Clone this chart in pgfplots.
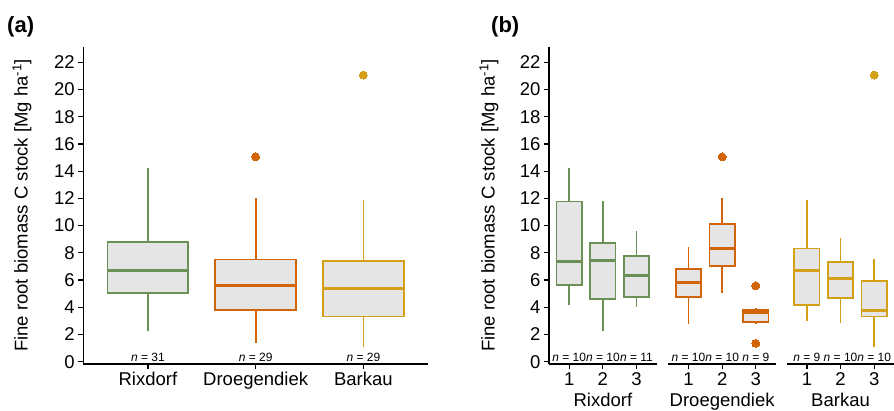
\documentclass[border=0pt]{standalone}
\usepackage{pgfplots}
\pgfplotsset{compat=1.18}
\usepgfplotslibrary{statistics}
\usepackage{fontspec}
\setmainfont{Liberation Sans}
\definecolor{cR}{RGB}{107,145,86}
\definecolor{cD}{RGB}{210,100,10}
\definecolor{cB}{RGB}{212,160,23}
\definecolor{boxfill}{RGB}{229,229,229}
\pgfplotsset{
  base/.style={
    scale only axis, anchor=south west,
    height=317pt,
    ymin=-0.17, ymax=23.12, xmin=0.4, xmax=3.6,
    ytick={0,2,...,22},
    axis x line*=bottom, axis y line*=left,
    axis line style={-, line width=1.6pt, black},
    tick style={line width=1.2pt, black},
    major tick length=5pt, tick align=outside,
    ticklabel style={font=\fontsize{18.5}{20}\selectfont},
    label style={font=\fontsize{18.5}{20}\selectfont},
    /pgf/number format/assume math mode=true,
    clip=false,
    boxplot/draw direction=y,
    boxplot/box extend=0.75,
    boxplot/whisker extend=0,
    boxplot/every median/.style={line width=3pt},
  },
  bx/.style={draw=#1, fill=boxfill, line width=1.7pt, solid,
    mark=*, mark size=4pt, mark options={fill=#1, draw=#1, line width=0pt}},
}
\tikzset{
  nlab/.style={anchor=base, inner sep=0pt, font=\fontsize{12}{14}\selectfont},
  grp/.style={anchor=base, inner sep=0pt, font=\fontsize{18.5}{20}\selectfont},
}
\begin{document}
\begin{tikzpicture}
\useasboundingbox (0,0) rectangle (894pt,410pt);
\node[anchor=base west, inner sep=0pt, font=\bfseries\fontsize{22}{24}\selectfont] at (7pt,377pt) {(a)};
\node[anchor=base west, inner sep=0pt, font=\bfseries\fontsize{22}{24}\selectfont] at (491pt,377pt) {(b)};
% ---------------- panel (a)
\begin{axis}[base, at={(83.3pt,46pt)}, width=344.7pt,
  xtick={1,2,3}, xticklabels={Rixdorf,Droegendiek,Barkau},
  ylabel={Fine root biomass C stock [Mg ha\textsuperscript{-1}]},
  ylabel style={at={(axis description cs:-0.178,0.5)}, anchor=center}]
\addplot[bx=cR, boxplot prepared={draw position=1, median=6.72, upper quartile=8.80, lower quartile=5.05, upper whisker=14.22, lower whisker=2.28}] coordinates {};
\addplot[bx=cD, boxplot prepared={draw position=2, median=5.62, upper quartile=7.50, lower quartile=3.82, upper whisker=12.06, lower whisker=1.35}] table[row sep=\\,y index=0] {v\\ 15.05\\};
\addplot[bx=cB, boxplot prepared={draw position=3, median=5.37, upper quartile=7.40, lower quartile=3.31, upper whisker=11.87, lower whisker=1.10}] table[row sep=\\,y index=0] {v\\ 21.06\\};
\node[nlab] at (axis cs:1,0.05) {\textit{n} = 31};
\node[nlab] at (axis cs:2,0.05) {\textit{n} = 29};
\node[nlab] at (axis cs:3,0.05) {\textit{n} = 29};
\end{axis}
% ---------------- panel (b), facet Rixdorf
\begin{axis}[base, at={(549pt,46pt)}, width=107.7pt,
  xtick={1,2,3},
  ylabel={Fine root biomass C stock [Mg ha\textsuperscript{-1}]},
  ylabel style={at={(axis description cs:-0.557,0.5)}, anchor=center}]
\addplot[bx=cR, boxplot prepared={draw position=1, median=7.35, upper quartile=11.77, lower quartile=5.62, upper whisker=14.22, lower whisker=4.17}] coordinates {};
\addplot[bx=cR, boxplot prepared={draw position=2, median=7.45, upper quartile=8.73, lower quartile=4.63, upper whisker=11.82, lower whisker=2.28}] coordinates {};
\addplot[bx=cR, boxplot prepared={draw position=3, median=6.30, upper quartile=7.77, lower quartile=4.73, upper whisker=9.63, lower whisker=4.04}] coordinates {};
\node[nlab] at (axis cs:1,0.05) {\textit{n} = 10};
\node[nlab] at (axis cs:2,0.05) {\textit{n} = 10};
\node[nlab] at (axis cs:3,0.05) {\textit{n} = 11};
\node[grp] at (rel axis cs:0.5,0) [yshift=-42pt] {Rixdorf};
\end{axis}
% ---------------- facet Droegendiek
\begin{axis}[base, at={(668.3pt,46pt)}, width=107.7pt,
  axis y line=none, xtick={1,2,3}]
\addplot[bx=cD, boxplot prepared={draw position=1, median=5.79, upper quartile=6.79, lower quartile=4.73, upper whisker=8.41, lower whisker=2.77}] coordinates {};
\addplot[bx=cD, boxplot prepared={draw position=2, median=8.31, upper quartile=10.10, lower quartile=7.04, upper whisker=12.06, lower whisker=5.07}] table[row sep=\\,y index=0] {v\\ 15.05\\};
\addplot[bx=cD, boxplot prepared={draw position=3, median=3.63, upper quartile=3.82, lower quartile=2.94, upper whisker=3.92, lower whisker=2.77}] table[row sep=\\,y index=0] {v\\ 5.57\\ 1.35\\};
\node[nlab] at (axis cs:1,0.05) {\textit{n} = 10};
\node[nlab] at (axis cs:2,0.05) {\textit{n} = 10};
\node[nlab] at (axis cs:3,0.05) {\textit{n} = 9};
\node[grp] at (rel axis cs:0.5,0) [yshift=-42pt] {Droegendiek};
\end{axis}
% ---------------- facet Barkau
\begin{axis}[base, at={(786.7pt,46pt)}, width=107.7pt,
  axis y line=none, xtick={1,2,3}]
\addplot[bx=cB, boxplot prepared={draw position=1, median=6.67, upper quartile=8.31, lower quartile=4.19, upper whisker=11.87, lower whisker=3.01}] coordinates {};
\addplot[bx=cB, boxplot prepared={draw position=2, median=6.10, upper quartile=7.31, lower quartile=4.68, upper whisker=9.12, lower whisker=2.87}] coordinates {};
\addplot[bx=cB, boxplot prepared={draw position=3, median=3.75, upper quartile=5.93, lower quartile=3.31, upper whisker=7.57, lower whisker=1.10}] table[row sep=\\,y index=0] {v\\ 21.06\\};
\node[nlab] at (axis cs:1,0.05) {\textit{n} = 9};
\node[nlab] at (axis cs:2,0.05) {\textit{n} = 10};
\node[nlab] at (axis cs:3,0.05) {\textit{n} = 10};
\node[grp] at (rel axis cs:0.5,0) [yshift=-42pt] {Barkau};
\end{axis}
\end{tikzpicture}
\end{document}
